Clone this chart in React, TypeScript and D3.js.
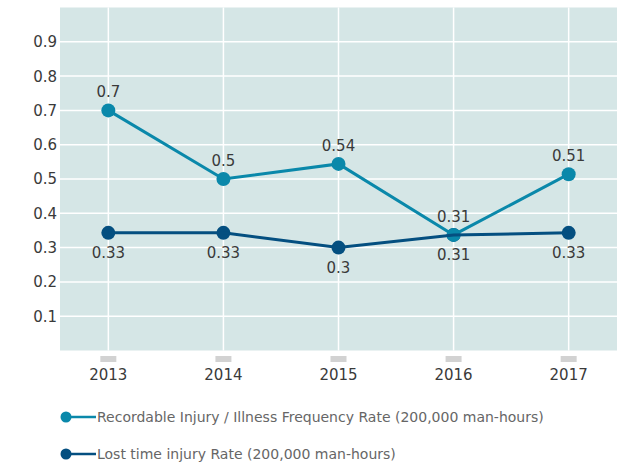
import React from "react";
import * as d3 from "d3";

const years = ["2013", "2014", "2015", "2016", "2017"];
const recordable = [0.7, 0.5, 0.544, 0.337, 0.514];
const recordableLabels = ["0.7", "0.5", "0.54", "0.31", "0.51"];
const lostTime = [0.343, 0.343, 0.3, 0.337, 0.343];
const lostTimeLabels = ["0.33", "0.33", "0.3", "0.31", "0.33"];
const yTicks = [0.1, 0.2, 0.3, 0.4, 0.5, 0.6, 0.7, 0.8, 0.9];
const legendItems = [
  "Recordable Injury / Illness Frequency Rate (200,000 man-hours)",
  "Lost time injury Rate (200,000 man-hours)",
];

const W = 626;
const H = 466;
const plot = { left: 60, right: 617, top: 7.5, bottom: 350.5 };
const C_REC = "#0a88aa";
const C_LOST = "#044f80";
const BG = "#d5e6e6";
const FONT = "'DejaVu Sans', sans-serif";
const TXT = "#3a3a3a";

export default function App() {
  const x = d3
    .scalePoint<string>()
    .domain(years)
    .range([plot.left, plot.right])
    .padding(0.42);
  const y = d3.scaleLinear().domain([0, 1]).range([plot.bottom, plot.top]);
  const line = d3
    .line<number>()
    .x((_, i) => x(years[i])!)
    .y((d) => y(d));

  return (
    <svg
      width={W}
      height={H}
      style={{ position: "absolute", left: 0, top: 0, display: "block" }}
      fontFamily={FONT}
    >
      <rect x={0} y={0} width={W} height={H} fill="#fff" />
      <rect
        x={plot.left}
        y={plot.top}
        width={plot.right - plot.left}
        height={plot.bottom - plot.top}
        fill={BG}
      />
      {yTicks.map((t) => (
        <line
          key={t}
          x1={plot.left}
          x2={plot.right}
          y1={y(t)}
          y2={y(t)}
          stroke="#fff"
          strokeWidth={1.5}
        />
      ))}
      {years.map((yr) => (
        <line
          key={yr}
          x1={x(yr)}
          x2={x(yr)}
          y1={plot.top}
          y2={plot.bottom}
          stroke="#fff"
          strokeWidth={1.5}
        />
      ))}
      {yTicks.map((t) => (
        <text
          key={t}
          x={57}
          y={y(t)}
          dy="0.36em"
          textAnchor="end"
          fontSize={15}
          fill={TXT}
        >
          {t.toFixed(1)}
        </text>
      ))}
      {years.map((yr) => (
        <g key={yr}>
          <rect x={x(yr)! - 8} y={356} width={16} height={6} fill="#d2d2d2" />
          <text x={x(yr)} y={380} textAnchor="middle" fontSize={15} fill={TXT}>
            {yr}
          </text>
        </g>
      ))}
      {lostTime.map((v, i) => (
        <circle key={"ld" + i} cx={x(years[i])} cy={y(v)} r={7} fill={C_LOST} />
      ))}
      <path d={line(recordable)!} fill="none" stroke={C_REC} strokeWidth={3} />
      {recordable.map((v, i) => (
        <circle key={"rd" + i} cx={x(years[i])} cy={y(v)} r={7} fill={C_REC} />
      ))}
      <path d={line(lostTime)!} fill="none" stroke={C_LOST} strokeWidth={3} />
      {recordable.map((v, i) => (
        <text
          key={"rl" + i}
          x={x(years[i])}
          y={y(v) - 13}
          textAnchor="middle"
          fontSize={15}
          fill={TXT}
        >
          {recordableLabels[i]}
        </text>
      ))}
      {lostTime.map((v, i) => (
        <text
          key={"ll" + i}
          x={x(years[i])}
          y={y(v) + 25}
          textAnchor="middle"
          fontSize={15}
          fill={TXT}
        >
          {lostTimeLabels[i]}
        </text>
      ))}
      {legendItems.map((label, i) => {
        const cy = 417 + i * 37;
        const c = i === 0 ? C_REC : C_LOST;
        return (
          <g key={label}>
            <line x1={66} x2={96} y1={cy} y2={cy} stroke={c} strokeWidth={2.5} />
            <circle cx={66} cy={cy} r={5.5} fill={c} />
            <text x={97} y={cy} dy="0.36em" fontSize={14} fill="#666">
              {label}
            </text>
          </g>
        );
      })}
    </svg>
  );
}
